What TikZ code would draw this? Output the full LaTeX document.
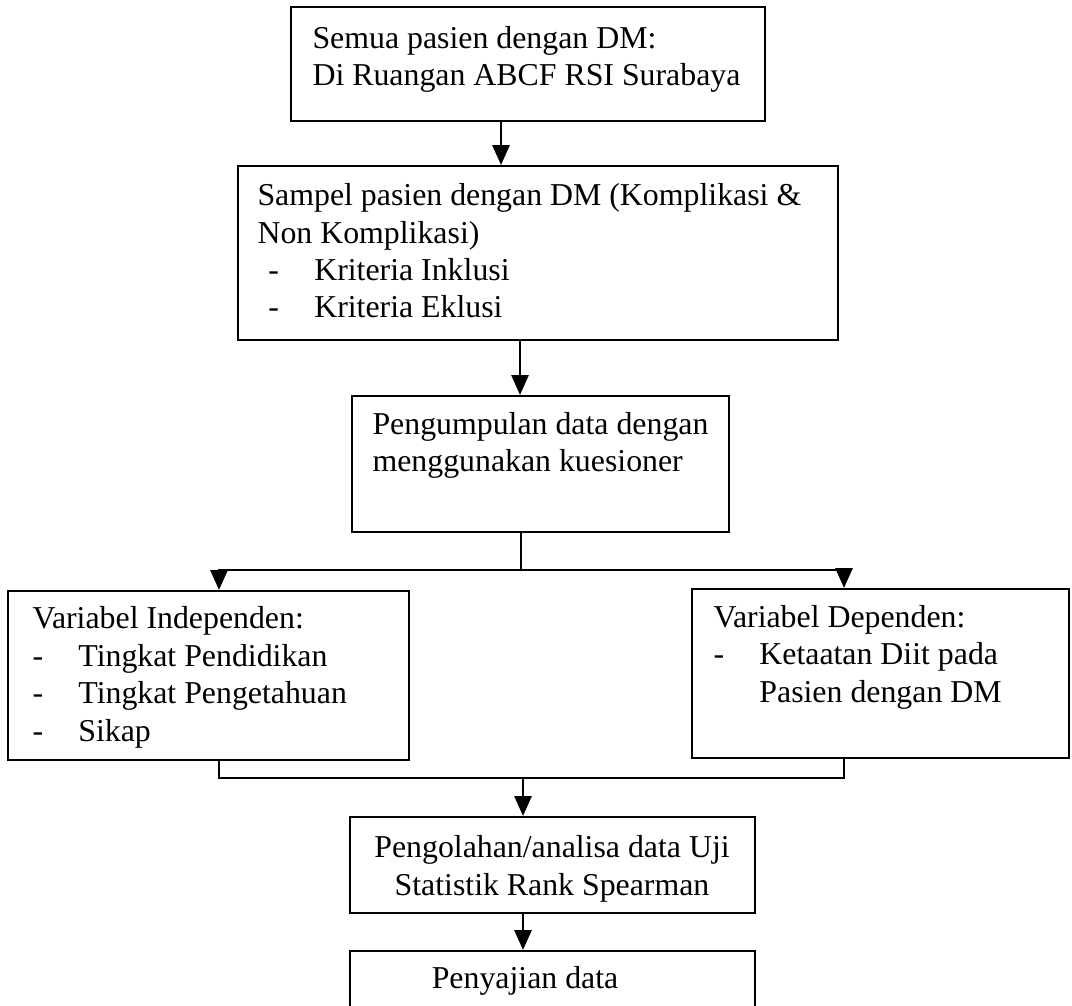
\documentclass[tikz,border=0pt]{standalone}
\usepackage{fontspec}
\setmainfont{Liberation Serif}
\usetikzlibrary{arrows.meta}
\newcommand{\kotak}[5]{\node[kotak, minimum width={(#4-#2)*0.377pt}, minimum height={(#5-#3)*0.377pt}] (#1) at ({(#2+#4)/2},{(#3+#5)/2}) {};}
\newcommand{\butir}[2][0pt]{\hspace*{#1}\makebox[17.3pt][l]{-}#2}

\begin{document}
\begin{tikzpicture}[x=0.377pt,y=-0.377pt,
    kotak/.style={draw, thick, rectangle, inner sep=0pt},
    teks/.style={inner sep=0pt, align=left, font=\fontsize{12pt}{14.1pt}\selectfont},
    panah/.style={thick, -{Triangle[length=7.5pt,width=6.5pt]}}]
        \useasboundingbox (0,0) rectangle (1072,1006);
        \clip (0,0) rectangle (1072,1006);

        \kotak{b1}{291}{7}{765}{121}
        \kotak{b2}{238}{166}{838}{340}
        \kotak{b3}{352}{396}{729}{532}
        \kotak{b4}{8}{591}{409}{760}
        \kotak{b5}{692}{589}{1069}{758}
        \kotak{b6}{350}{817}{755}{913}
        \kotak{b7}{350}{951}{755}{1040}

        % base = baseline of the last line
        \node[teks, anchor=base west] (t1) at (312,86) {Semua pasien dengan DM:\\Di Ruangan ABCF RSI Surabaya};
        \node[teks, anchor=base west] (t2) at (257,318) {Sampel pasien dengan DM (Komplikasi \&\\Non Komplikasi)\\\butir[4.1pt]{Kriteria Inklusi}\\\butir[4.1pt]{Kriteria Eklusi}};
        \node[teks, anchor=base west] (t3) at (372,472) {Pengumpulan data dengan\\menggunakan kuesioner};
        \node[teks, anchor=base west] (t4) at (32,741) {Variabel Independen:\\\butir{Tingkat Pendidikan}\\\butir{Tingkat Pengetahuan}\\\butir{Sikap}};
        \node[teks, anchor=base west] (t5) at (713,702) {Variabel Dependen:\\\butir{Ketaatan Diit pada}\\\hspace*{17.3pt}Pasien dengan DM};
        \node[teks, align=center, anchor=base] (t6) at (552,895) {Pengolahan/analisa data Uji\\Statistik Rank Spearman};
        \node[teks, align=center, anchor=base] (t7) at (525,988) {Penyajian data};

        \coordinate (c1) at (501,0);
        \coordinate (c2) at (520,0);
        \coordinate (pisah) at (521,570);
        \coordinate (kiri) at (219,0);
        \coordinate (kanan) at (844,0);
        \coordinate (gabung) at (523,778);

        \draw[panah] (b1.south -| c1) -- (b2.north -| c1);
        \draw[panah] (b2.south -| c2) -- (b3.north -| c2);
        \draw[thick] (b3.south -| pisah) -- (pisah);
        \draw[panah] (pisah) -| (b4.north -| kiri);
        \draw[panah] (pisah) -| (b5.north -| kanan);
        \draw[thick] (b4.south -| kiri) |- (gabung) -| (b5.south -| kanan);
        \draw[panah] (gabung) -- (b6.north -| gabung);
        \draw[panah] (b6.south -| gabung) -- (b7.north -| gabung);
    \end{tikzpicture}
\end{document}
